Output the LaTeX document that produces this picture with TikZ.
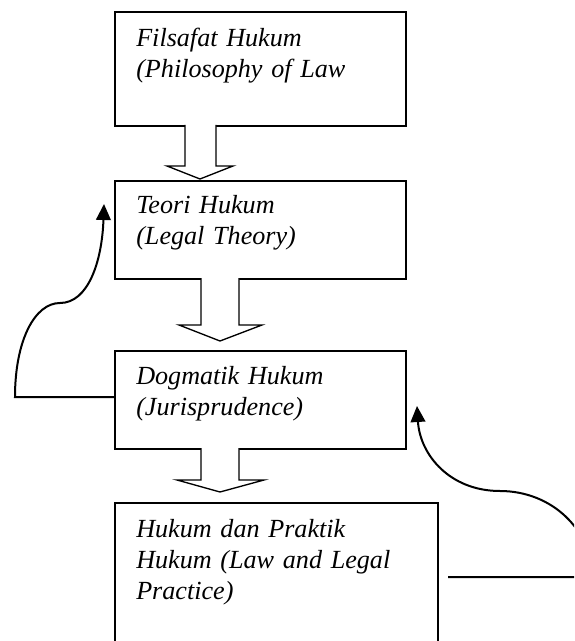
\documentclass[tikz,border=0pt]{standalone}
\usepackage{fontspec}
\setmainfont{Liberation Serif}
\usetikzlibrary{arrows.meta}
\begin{document}
\begin{tikzpicture}[x=0.75pt,y=-0.75pt,
  box/.style={draw, line width=1.4pt, rectangle, inner sep=0pt, anchor=north west},
  boxtext/.style={anchor=base west, inner sep=0pt, text width=300pt, align=left,
    font=\fontsize{19.6}{23.25}\selectfont\itshape},
  flow/.style={draw, line width=1pt, fill=white, line join=miter},
  link/.style={line width=1.5pt, -{Triangle[length=12pt,width=11pt]}}
]
\useasboundingbox (0,0) rectangle (574,641);
\clip (0,0) rectangle (574,641);

% boxes
\node[box, minimum width=218.25pt, minimum height=85.5pt] (b1) at (114,11) {};
\node[box, minimum width=218.25pt, minimum height=73.5pt] (b2) at (114,180) {};
\node[box, minimum width=218.25pt, minimum height=73.5pt] (b3) at (114,350) {};
\node[box, minimum width=242.25pt, minimum height=122.25pt] (b4) at (114,502) {};

% box texts
\node[boxtext] (t1) at (136,47) {Filsafat Hukum\\(Philosophy of Law};
\node[boxtext] (t2) at (136,214) {Teori Hukum\\(Legal Theory)};
\node[boxtext] (t3) at (136,384) {Dogmatik Hukum\\(Jurisprudence)};
\node[boxtext] (t4) at (136,537) {Hukum dan Praktik\\Hukum (Law and Legal\\Practice)};

% hollow block arrows between the levels
\draw[flow] (185,125) -- (185,166) -- (167,166) -- (200,179) -- (233,166) -- (216,166) -- (216,125);
\draw[flow] (201,278) -- (201,325) -- (179,325) -- (220,341) -- (262,325) -- (239,325) -- (239,278);
\draw[flow] (201,448) -- (201,480) -- (177,480) -- (220,492) -- (264,480) -- (239,480) -- (239,448);

% feedback links
\coordinate (up2) at (104,204);
\coordinate (up3) at (417,406);
\coordinate (out4) at (448,577);
\draw[link] (b3.west |- 0,397) -- (15,397)
  .. controls (15,340) and (35,303) .. (60,303)
  .. controls (88,303) and (102,262) .. (up2);
\draw[link] (out4) -- (592,577)
  .. controls (592,530) and (552,491) .. (500,491)
  .. controls (450,491) and (420,455) .. (up3);
\end{tikzpicture}
\end{document}
